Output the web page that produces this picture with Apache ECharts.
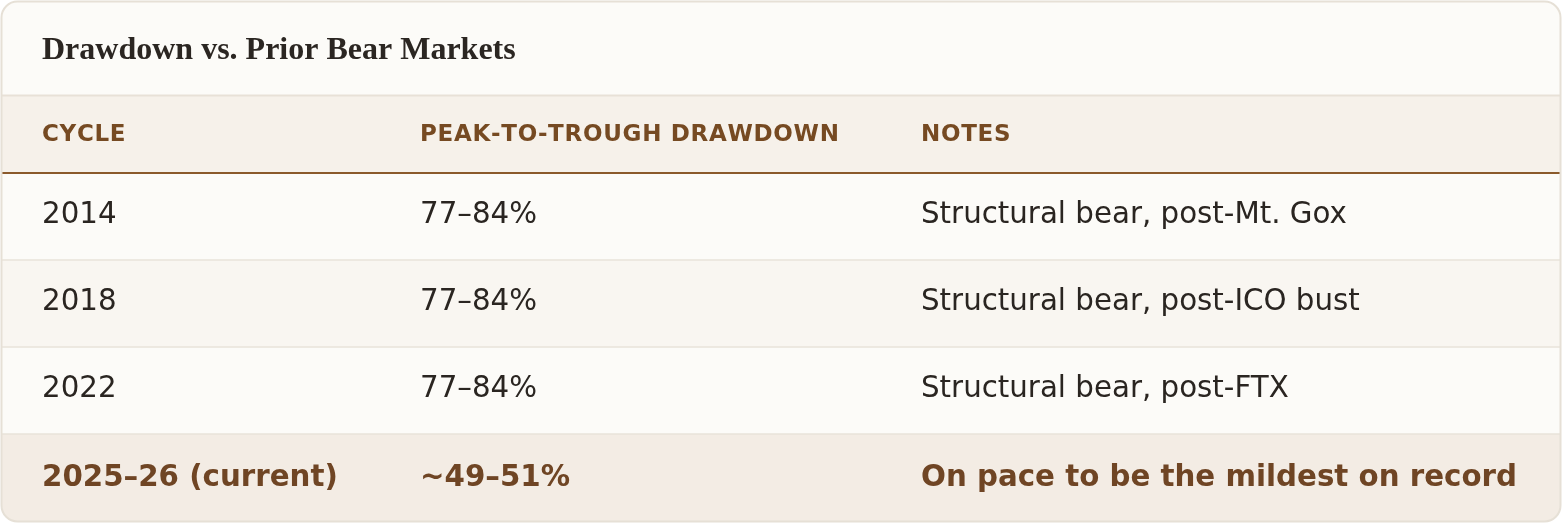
<!DOCTYPE html>
<html>
<head>
<meta charset="utf-8">
<script src="https://cdn.jsdelivr.net/npm/echarts@6/dist/echarts.min.js"></script>
<style>
html,body{margin:0;padding:0;background:#ffffff;}
#chart{width:1562px;height:524px;}
</style>
</head>
<body>
<div id="chart"></div>
<script>
const chartTitle = 'Drawdown vs. Prior Bear Markets';
const columns = ['CYCLE', 'PEAK-TO-TROUGH DRAWDOWN', 'NOTES'];
const cycles = ['2014', '2018', '2022', '2025–26 (current)'];
const drawdowns = ['77–84%', '77–84%', '77–84%', '~49–51%'];
const notes = [
  'Structural bear, post-Mt. Gox',
  'Structural bear, post-ICO bust',
  'Structural bear, post-FTX',
  'On pace to be the mildest on record'
];
const highlightRow = [false, false, false, true];

const colX = [42, 420, 921];
const W = 1562, H = 524;
const rowsTop = 173, rowsBottom = 521;

const chart = echarts.init(document.getElementById('chart'), null, {renderer: 'canvas'});

// letter-spaced header labels: place each glyph using measured advances
const headFont = 'bold 23px "DejaVu Sans"';
const letterSpacing = 0.7;
const mctx = document.createElement('canvas').getContext('2d');
mctx.font = headFont;
const headerGraphics = [];
columns.forEach((c, i) => {
  let x = colX[i];
  c.split('').forEach(ch => {
    headerGraphics.push({
      type: 'text', z: 50,
      style: {
        x: x, y: 135.5, text: ch, fill: '#764a22',
        fontFamily: 'DejaVu Sans', fontWeight: 'bold', fontSize: 23,
        align: 'left', verticalAlign: 'middle'
      }
    });
    x += mctx.measureText(ch).width + letterSpacing;
  });
});

const option = {
  animation: false,
  backgroundColor: '#ffffff',
  grid: {left: 0, right: 0, top: rowsTop, bottom: H - rowsBottom, containLabel: false},
  xAxis: {type: 'value', min: 0, max: W, show: false},
  yAxis: {type: 'category', data: cycles, inverse: true, show: false},
  graphic: [
    {type: 'rect', z: -10, shape: {x: 1.5, y: 1.5, width: W - 3, height: H - 4, r: 16},
      style: {fill: '#fcfbf8', stroke: 'none'}},
    {type: 'rect', z: -5, shape: {x: 2, y: 95, width: W - 4, height: 77},
      style: {fill: '#f6f1ea'}},
    {type: 'line', z: -4, shape: {x1: 2, y1: 95.5, x2: W - 2, y2: 95.5},
      style: {stroke: '#e8e1d7', lineWidth: 2}},
    {type: 'line', z: 40, shape: {x1: 2, y1: 173, x2: W - 2, y2: 173},
      style: {stroke: '#8b5a2b', lineWidth: 2}},
    {type: 'text', z: 50, style: {
      x: 42, y: 51, text: chartTitle, fill: '#2b2622',
      fontFamily: 'Liberation Serif', fontWeight: 'bold', fontSize: 32,
      align: 'left', verticalAlign: 'middle'}},
    ...headerGraphics,
    {type: 'rect', z: 100, shape: {x: 1.5, y: 1.5, width: W - 3, height: H - 4, r: 16},
      style: {fill: 'none', stroke: '#e6e0d6', lineWidth: 2}}
  ],
  series: [{
    type: 'custom',
    z: 10,
    data: cycles.map((c, i) => [0, i]),
    renderItem: function (params, api) {
      const i = api.value(1);
      const center = api.coord([0, i]);
      const bandH = api.size([0, 1])[1];
      const top = center[1] - bandH / 2;
      const last = i === cycles.length - 1;
      const hl = highlightRow[i];
      const bg = hl ? '#f3ece4' : (i % 2 === 1 ? '#f9f6f1' : '#fcfbf8');
      const ty = center[1] - (hl ? -0.5 : 1);
      const txtStyle = (t, x) => ({
        type: 'text',
        style: {
          x: x, y: ty, text: t,
          fill: hl ? '#6f4524' : '#2a2521',
          fontFamily: 'DejaVu Sans',
          fontWeight: hl ? 'bold' : 'normal',
          fontSize: 29.3,
          align: 'left', verticalAlign: 'middle'
        }
      });
      const children = [
        {type: 'rect', shape: {x: 2, y: top, width: W - 4, height: bandH, r: last ? [0, 0, 15, 15] : 0},
          style: {fill: bg}},
        txtStyle(cycles[i], colX[0]),
        txtStyle(drawdowns[i], colX[1]),
        txtStyle(notes[i], colX[2])
      ];
      if (i > 0) {
        children.push({type: 'line', shape: {x1: 2, y1: top, x2: W - 2, y2: top},
          style: {stroke: '#e9e3da', lineWidth: 1.5}});
      }
      return {type: 'group', children: children};
    }
  }]
};
chart.setOption(option);
</script>
</body>
</html>
